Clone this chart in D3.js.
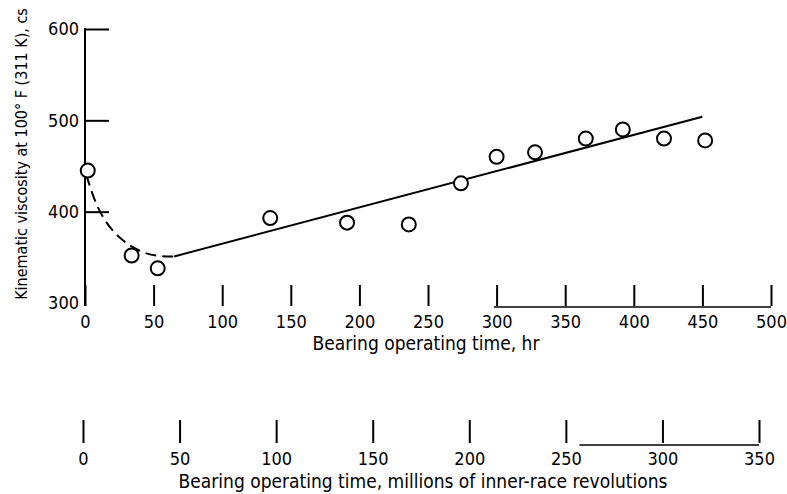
<!DOCTYPE html>
<html>
<head>
<meta charset="utf-8">
<script src="https://cdn.jsdelivr.net/npm/d3@7"></script>
<style>
  body { margin: 0; background: #fff; }
  text { font-family: "DejaVu Sans Condensed", "Liberation Sans Narrow", sans-serif; fill: #000; }
</style>
</head>
<body>
<div id="chart"></div>
<script>
// Measured points: hours vs viscosity (cs)
const hours = [2, 34, 53, 135, 191, 236, 274, 300, 328, 365, 392, 422, 452]
const viscosity = [445, 352, 338, 393, 388, 386, 431, 460, 465, 480, 490, 480, 478]

// Faired curve: dashed break-in part and solid straight trend
const dashHours = [1, 6, 13, 25, 40, 52, 65]
const dashVisc = [440, 416, 392, 370, 356, 351, 351]
const lineHours = [65, 450]
const lineVisc = [351, 504]

const hourTicks = [0, 50, 100, 150, 200, 250, 300, 350, 400, 450, 500]
const revTicks = [0, 50, 100, 150, 200, 250, 300, 350]
const viscTicks = [300, 400, 500, 600]

const width = 787
const height = 494

const svg = d3.select("#chart")
  .append("svg")
    .attr("width", width)
    .attr("height", height)

const x = d3.scaleLinear().domain([0, 500]).range([85, 771])
const y = d3.scaleLinear().domain([300, 600]).range([303, 29])
const x2 = d3.scaleLinear().domain([0, 350]).range([83, 759])

// y axis (ticks point inward)
const yAxis = d3.axisLeft(y).tickValues(viscTicks).tickSize(-24).tickSizeOuter(0).tickPadding(6)
const gy = svg.append("g")
  .attr("transform", "translate(" + x(0) + ",0)")
  .call(yAxis)
gy.select(".domain").attr("stroke-width", 2).attr("d", "M0," + (y(600) - 1) + "V306")
gy.selectAll(".tick line").attr("stroke-width", 2)
gy.selectAll(".tick text").attr("font-size", 18).attr("font-family", null)
gy.selectAll(".tick").filter(d => d === 300).select("line").remove()

svg.append("text")
  .text("Kinematic viscosity at 100° F (311 K),  cs")
  .attr("text-anchor", "middle")
  .attr("font-size", 16)
  .attr("transform", "translate(27,154)rotate(-90)")

// hours axis
const xAxis = d3.axisBottom(x).tickValues(hourTicks).tickSize(-21).tickSizeOuter(0).tickPadding(9)
const gx = svg.append("g")
  .attr("transform", "translate(0,306)")
  .call(xAxis)
gx.select(".domain").remove()
gx.selectAll(".tick line").attr("stroke-width", 2)
gx.selectAll(".tick text").attr("font-size", 18).attr("font-family", null)

svg.append("line")
  .attr("x1", x(298)).attr("x2", x(500))
  .attr("y1", 307).attr("y2", 307)
  .attr("stroke", "#000").attr("stroke-width", 1.5)

svg.append("text")
  .text("Bearing operating time,  hr")
  .attr("text-anchor", "middle")
  .attr("font-size", 19)
  .attr("x", 426)
  .attr("y", 350)

// revolutions axis
const x2Axis = d3.axisBottom(x2).tickValues(revTicks).tickSize(-23).tickSizeOuter(0).tickPadding(9)
const gx2 = svg.append("g")
  .attr("transform", "translate(0,443)")
  .call(x2Axis)
gx2.select(".domain").remove()
gx2.selectAll(".tick line").attr("stroke-width", 2)
gx2.selectAll(".tick text").attr("font-size", 18).attr("font-family", null)

svg.append("line")
  .attr("x1", x2(257)).attr("x2", x2(350))
  .attr("y1", 445).attr("y2", 445)
  .attr("stroke", "#000").attr("stroke-width", 1.5)

svg.append("text")
  .text("Bearing operating time,  millions of inner-race revolutions")
  .attr("text-anchor", "middle")
  .attr("font-size", 19)
  .attr("x", 423)
  .attr("y", 488)

// curves
const line = d3.line()
  .x(d => x(d[0]))
  .y(d => y(d[1]))

svg.append("path")
  .datum(d3.zip(dashHours, dashVisc))
  .attr("d", line.curve(d3.curveBasis))
  .attr("fill", "none")
  .attr("stroke", "#000")
  .attr("stroke-width", 2)
  .attr("stroke-dasharray", "11,6")

svg.append("path")
  .datum(d3.zip(lineHours, lineVisc))
  .attr("d", line.curve(d3.curveLinear))
  .attr("fill", "none")
  .attr("stroke", "#000")
  .attr("stroke-width", 2)

// data points
svg.selectAll("circle.pt")
  .data(d3.zip(hours, viscosity))
  .enter()
  .append("circle")
    .attr("class", "pt")
    .attr("cx", d => x(d[0]))
    .attr("cy", d => y(d[1]))
    .attr("r", 7)
    .attr("fill", "#fff")
    .attr("stroke", "#000")
    .attr("stroke-width", 2)
</script>
</body>
</html>
